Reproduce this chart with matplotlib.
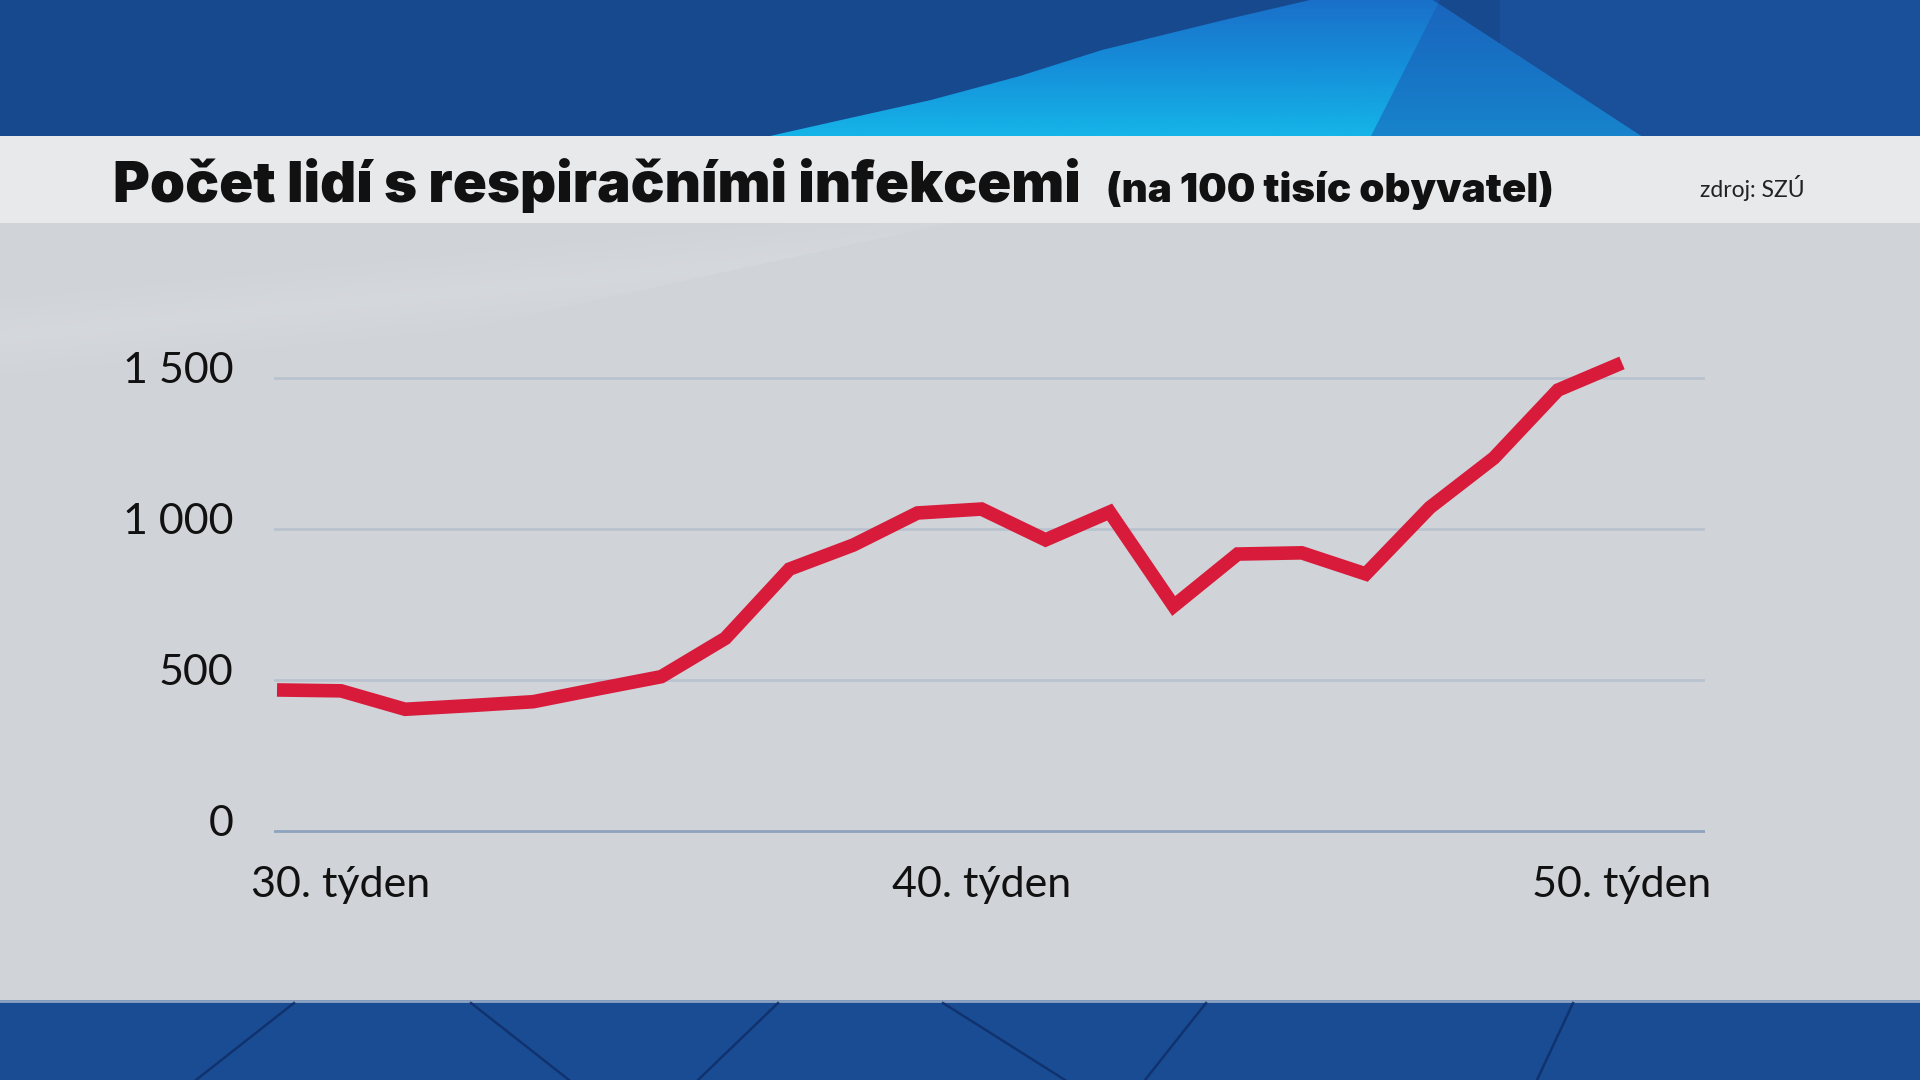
import numpy as np
import matplotlib
matplotlib.use("Agg")
import matplotlib.pyplot as plt
from matplotlib.patches import Rectangle, Polygon
from matplotlib.colors import LinearSegmentedColormap
from matplotlib.transforms import ScaledTranslation

# weekly values (per 100k inhabitants), weeks 29..50
weeks = list(range(29, 51))
cases = [467, 464, 403, 415, 428, 470, 511, 638, 867, 947, 1053,
         1066, 964, 1056, 745, 917, 921, 851, 1071, 1235, 1460, 1550]

y_ticks = [0, 500, 1000, 1500]
x_ticks = [30, 40, 50]
x_tick_labels = ["30. týden", "40. týden", "50. týden"]

title = "Počet lidí s respiračními infekcemi"
subtitle = "(na 100 tisíc obyvatel)"
source = "zdroj: SZÚ"

FONT = ["Lato", "DejaVu Sans"]
HEAD = ["Inter", "Lato", "DejaVu Sans"]
RED = "#d81b3b"
INK = "#111111"

fig = plt.figure(figsize=(19.2, 10.8), dpi=100)

# --- background decoration (pixel coordinates) ---
bg = fig.add_axes([0, 0, 1, 1], zorder=0)
bg.set_xlim(0, 1920)
bg.set_ylim(1080, 0)
bg.axis("off")

bg.add_patch(Rectangle((0, 0), 1920, 136, color="#17498f", lw=0))
bg.add_patch(Rectangle((1500, 0), 420, 136, color="#1a509a", lw=0))
beam = Polygon([(770, 136), (850, 118), (931, 100), (1020, 76), (1102, 50),
                (1224, 20), (1310, 0), (1433, 0), (1641, 136)],
               closed=True, facecolor="none", edgecolor="none")
bg.add_patch(beam)
cmap = LinearSegmentedColormap.from_list("beam", ["#1a70c9", "#1590da", "#15b4e8"])
grad = np.linspace(0, 1, 100).reshape(-1, 1)
im = bg.imshow(grad, cmap=cmap, extent=(700, 1700, 136, 0), aspect="auto",
               origin="upper", zorder=1)
im.set_clip_path(beam)
shade = Polygon([(1371, 136), (1440, 0), (1433, 0), (1641, 136)], closed=True,
                facecolor="#1a5cb4", alpha=0.55, edgecolor="none", zorder=2)
bg.add_patch(shade)

bg.add_patch(Rectangle((0, 136), 1920, 87, color="#e8e9eb", lw=0, zorder=3))
bg.add_patch(Rectangle((0, 223), 1920, 777, color="#d0d3d8", lw=0, zorder=3))

# faint light sweep in the upper left of the chart panel
glow_poly = Polygon([(0, 223), (950, 223), (0, 430)], closed=True,
                    facecolor="none", edgecolor="none", zorder=4)
bg.add_patch(glow_poly)
gx = np.linspace(0, 1, 200)
gy = np.linspace(0, 1, 100)
GX, GY = np.meshgrid(gx, gy)
alpha = np.clip(0.5 - np.abs(GY - 0.55 + 0.45 * GX) * 2.2, 0, 1) * 0.22
rgba = np.zeros((100, 200, 4))
rgba[..., :3] = 1.0
rgba[..., 3] = alpha
gim = bg.imshow(rgba, extent=(0, 950, 430, 223), aspect="auto", origin="upper", zorder=4)
gim.set_clip_path(glow_poly)

bg.add_patch(Rectangle((0, 1000), 1920, 80, color="#1a4c94", lw=0, zorder=3))
bg.plot([0, 1920], [1001, 1001], color="#8ea3c2", lw=2, zorder=4)
for x0, x1 in [(294, 196), (471, 569), (778, 698), (943, 1065), (1206, 1145), (1573, 1537)]:
    bg.plot([x0, x1], [1003, 1080], color="#0e2d66", lw=1.8, alpha=0.8, zorder=4)

# --- header texts ---
fig.text(113 / 1920, 1 - 202 / 1080, title, family=HEAD, weight="black",
         fontsize=40.5, color=INK, va="baseline", ha="left")
fig.text(1106 / 1920, 1 - 202 / 1080, subtitle, family=HEAD, weight="black",
         fontsize=29, color=INK, va="baseline", ha="left")
fig.text(1700 / 1920, 1 - 197 / 1080, source, family=FONT,
         fontsize=16.5, color="#222222", va="baseline", ha="left")

# --- chart ---
ax = fig.add_axes([274 / 1920, 0.2166, (1705 - 274) / 1920, 0.5173], zorder=2)
ax.set_facecolor("none")
ax.set_xlim(28.953, 51.296)
ax.set_ylim(-50, 1800)

for v in y_ticks:
    ax.axhline(v, color="#8fa3bc" if v == 0 else "#b9c3cf", lw=2, zorder=1)

ax.plot(weeks, cases, color=RED, lw=9.8, solid_capstyle="butt",
        solid_joinstyle="miter", zorder=3)

ax.set_yticks(y_ticks)
ax.set_yticklabels([f"{v:,}".replace(",", " ") for v in y_ticks])
ax.set_xticks(x_ticks)
ax.set_xticklabels(x_tick_labels)
ax.tick_params(axis="both", length=0, labelsize=31, colors=INK)
ax.tick_params(axis="y", pad=29)
ax.tick_params(axis="x", pad=14)
lift = ScaledTranslation(0, 0.10, fig.dpi_scale_trans)
for lbl in ax.get_yticklabels():
    lbl.set_family(FONT)
    lbl.set_transform(lbl.get_transform() + lift)
for lbl in ax.get_xticklabels():
    lbl.set_family(FONT)
for s in ax.spines.values():
    s.set_visible(False)

fig.savefig("out.png", dpi=100)
